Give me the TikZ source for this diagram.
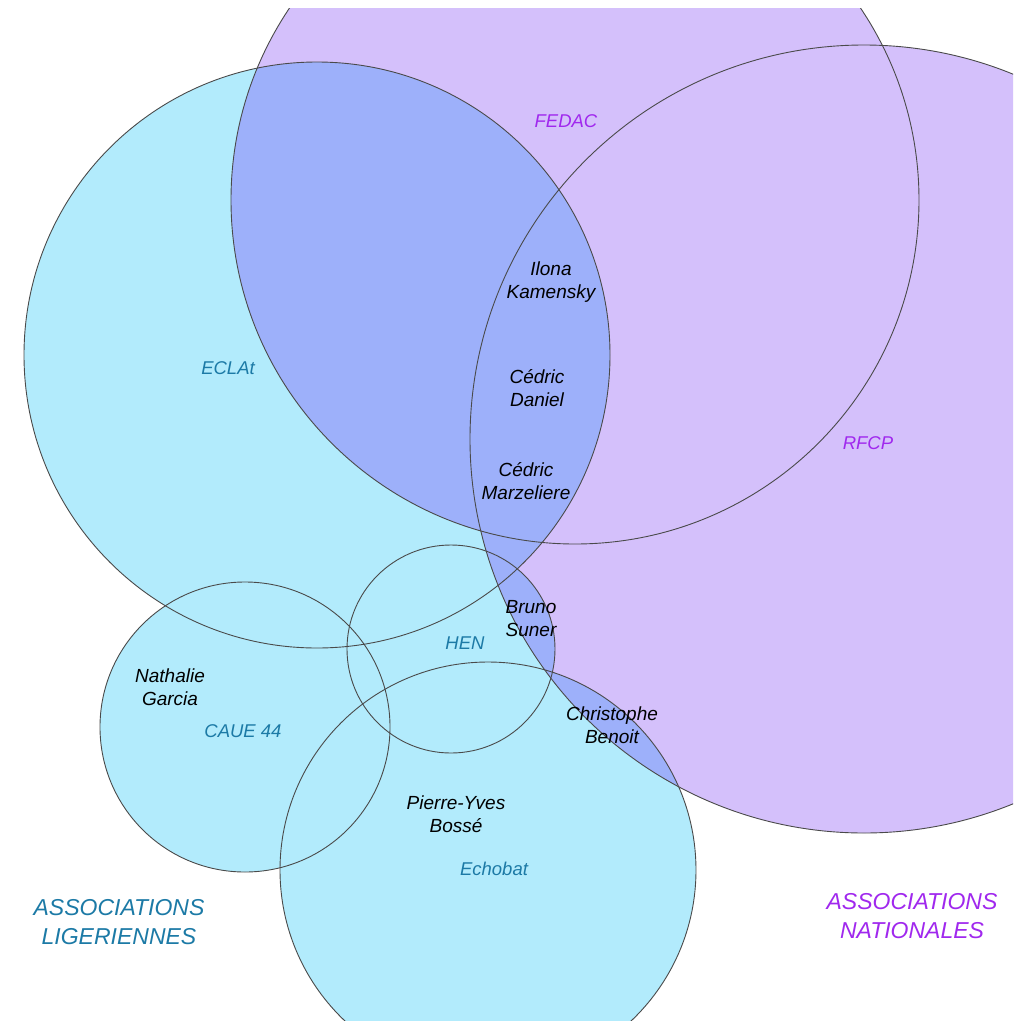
\documentclass[tikz,border=0pt]{standalone}
\usepackage{fontspec}
\setmainfont{Liberation Sans}
\definecolor{cyfill}{HTML}{B2EBFC}
\definecolor{pufill}{HTML}{D4C0FB}
\definecolor{blfill}{HTML}{9DB0FA}
\definecolor{cytext}{HTML}{1C7AA6}
\definecolor{putext}{HTML}{A028EE}
\definecolor{edgecol}{HTML}{4A4A4A}
\begin{document}
\begin{tikzpicture}[x=1pt,y=-1pt,
  person/.style={font=\fontsize{19}{23}\selectfont\itshape, align=center, inner sep=0pt, text=black},
  cylbl/.style={font=\fontsize{18.5}{23}\selectfont\itshape, inner sep=0pt, text=cytext},
  pulbl/.style={font=\fontsize{18.5}{23}\selectfont\itshape, inner sep=0pt, text=putext},
  cybig/.style={font=\fontsize{23}{29}\selectfont\itshape, align=center, inner sep=0pt, text=cytext},
  pubig/.style={font=\fontsize{23}{29}\selectfont\itshape, align=center, inner sep=0pt, text=putext},
  ol/.style={draw=edgecol, line width=0.9pt}]
\useasboundingbox (0,0) rectangle (1020,1021);
\fill[white] (0,0) rectangle (1020,1021);
\def\fedac{(575,200) circle[radius=344pt]}
\def\rfcp{(864,439) circle[radius=394pt]}
\def\eclat{(317,355) circle[radius=293pt]}
\def\hen{(451,649) circle[radius=104pt]}
\def\caue{(245,727) circle[radius=145pt]}
\def\echo{(488,870) circle[radius=208pt]}
\begin{scope}
  \clip (0,8) rectangle (1013,1021);
  \fill[cyfill] \eclat;
  \fill[cyfill] \hen;
  \fill[cyfill] \caue;
  \fill[cyfill] \echo;
  \fill[pufill] \fedac;
  \fill[pufill] \rfcp;
  \begin{scope}\clip \eclat; \fill[blfill] \fedac \rfcp; \end{scope}
  \begin{scope}\clip \hen; \fill[blfill] \fedac \rfcp; \end{scope}
  \begin{scope}\clip \caue; \fill[blfill] \fedac \rfcp; \end{scope}
  \begin{scope}\clip \echo; \fill[blfill] \fedac \rfcp; \end{scope}
  \draw[ol] \fedac;
  \draw[ol] \rfcp;
  \draw[ol] \eclat;
  \draw[ol] \hen;
  \draw[ol] \caue;
  \draw[ol] \echo;
\end{scope}
\node[pulbl] (fedac) at (566,121) {FEDAC};
\node[pulbl] (rfcp) at (868,443) {RFCP};
\node[cylbl] (eclat) at (228,368) {ECLAt};
\node[cylbl] (hen) at (465,643) {HEN};
\node[cylbl] (caue) at (243,731) {CAUE 44};
\node[cylbl] (echobat) at (494,869) {Echobat};
\node[person] (ilona) at (551,282) {Ilona\\Kamensky};
\node[person] (daniel) at (537,388) {Cédric\\Daniel};
\node[person] (marz) at (526,481) {Cédric\\Marzeliere};
\node[person] (bruno) at (531,619) {Bruno\\Suner};
\node[person] (nath) at (170,687) {Nathalie\\Garcia};
\node[person] (chris) at (612,725) {Christophe\\Benoit};
\node[person] (pierre) at (456,814) {Pierre-Yves\\Bossé};
\node[cybig] (lig) at (119,922) {ASSOCIATIONS\\LIGERIENNES};
\node[pubig] (nat) at (912,916) {ASSOCIATIONS\\NATIONALES};
\end{tikzpicture}
\end{document}
